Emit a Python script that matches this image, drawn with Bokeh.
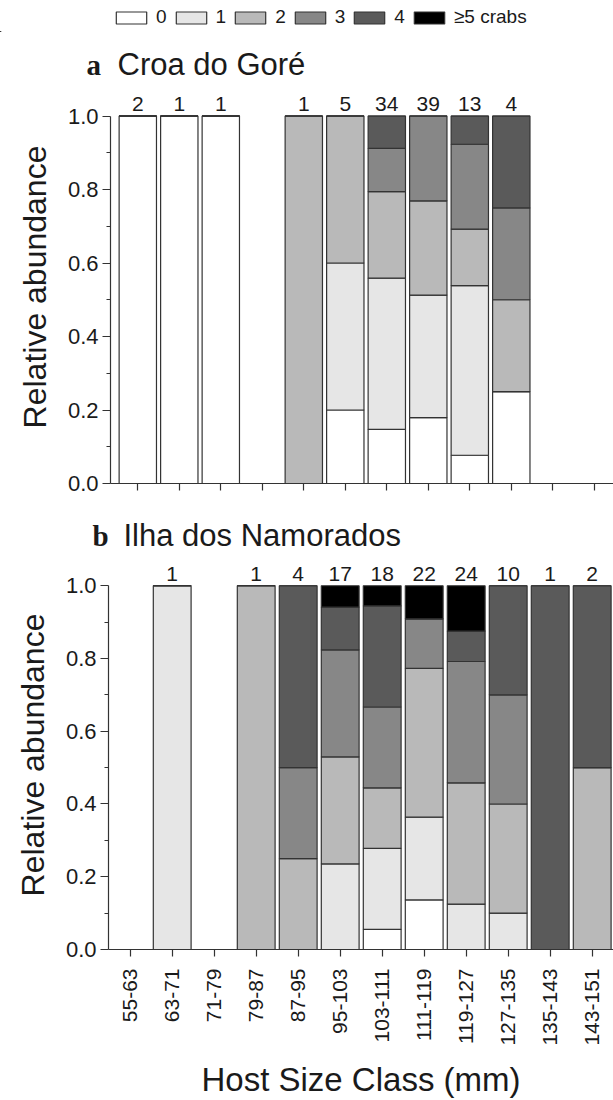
import math
import numpy as np
from bokeh.plotting import figure
from bokeh.models import (ColumnDataSource, FixedTicker, PrintfTickFormatter,
                          Legend, LegendItem, Range1d)
from bokeh.layouts import column
from bokeh.embed import file_html
from bokeh.resources import INLINE
from bokeh.core.properties import value

# ---------------- data ----------------
categories = ["55-63", "63-71", "71-79", "79-87", "87-95", "95-103", "103-111",
              "111-119", "119-127", "127-135", "135-143", "143-151"]
crab_classes = ["0", "1", "2", "3", "4", "\u22655 crabs"]

# a: Croa do Goré -- number of hosts carrying 0,1,2,3,4,>=5 crabs per size class
a_crabs0 = [2, 1, 1, 0, 0, 1, 5, 7, 1, 1, 0, 0]
a_crabs1 = [0, 0, 0, 0, 0, 2, 14, 13, 6, 0, 0, 0]
a_crabs2 = [0, 0, 0, 0, 1, 2, 8, 10, 2, 1, 0, 0]
a_crabs3 = [0, 0, 0, 0, 0, 0, 4, 9, 3, 1, 0, 0]
a_crabs4 = [0, 0, 0, 0, 0, 0, 3, 0, 1, 1, 0, 0]
a_crabs5 = [0, 0, 0, 0, 0, 0, 0, 0, 0, 0, 0, 0]

# b: Ilha dos Namorados
b_crabs0 = [0, 0, 0, 0, 0, 0, 1, 3, 0, 0, 0, 0]
b_crabs1 = [0, 1, 0, 0, 0, 4, 4, 5, 3, 1, 0, 0]
b_crabs2 = [0, 0, 0, 1, 1, 5, 3, 9, 8, 3, 0, 1]
b_crabs3 = [0, 0, 0, 0, 1, 5, 4, 3, 8, 3, 0, 0]
b_crabs4 = [0, 0, 0, 0, 2, 2, 5, 0, 2, 3, 1, 1]
b_crabs5 = [0, 0, 0, 0, 0, 1, 1, 2, 3, 0, 0, 0]

panel_letters = ["a", "b"]
panel_names = ["Croa do Gor\u00e9", "Ilha dos Namorados"]

y_ticks = [0.0, 0.2, 0.4, 0.6, 0.8, 1.0]
y_minor = [0.1, 0.3, 0.5, 0.7, 0.9]

# ---------------- style ----------------
COLORS = ["#ffffff", "#e6e6e6", "#b9b9b9", "#878787", "#5a5a5a", "#000000"]
LINE = "#333333"
TXT = "#1a1a1a"
SANS = "Liberation Sans"
SERIF = "Liberation Serif"
PX_PER_UNIT = 367.5
W = 613


def strip(height):
    p = figure(width=W, height=height, x_range=(0, W), y_range=(0, height),
               output_backend="svg", toolbar_location=None,
               min_border_left=0, min_border_right=0, min_border_top=0, min_border_bottom=0,
               x_axis_location=None, y_axis_location=None)
    p.frame_align = False
    p.outline_line_color = None
    p.grid.visible = False
    return p


def title_strip(height, letter, name, letter_x, name_x, base_from_top):
    p = strip(height)
    yb = height - base_from_top
    p.text(x=[letter_x], y=[yb], text=[letter], text_font=value(SERIF),
           text_font_style="bold", text_font_size="29px", text_color=TXT,
           text_baseline="alphabetic", text_align="left")
    p.text(x=[name_x], y=[yb], text=[name], text_font=value(SANS),
           text_font_size="31px", text_color=TXT,
           text_baseline="alphabetic", text_align="left")
    return p


def make_panel(counts, height, top, bottom, left, first_tick, pitch, show_labels):
    counts = np.array(counts, dtype=float)
    n = counts.sum(axis=0)
    safe_n = np.where(n > 0, n, 1)
    props = np.where(n > 0, counts / safe_n, np.nan)
    keys = [f"c{i}" for i in range(len(crab_classes))]
    data = {"x": list(range(len(categories)))}
    for k, row in zip(keys, props):
        data[k] = list(row)
    src = ColumnDataSource(data)

    frame_h = height - top - bottom
    xstart = -(first_tick - left) / pitch
    xend = xstart + (W - left) / pitch
    p = figure(width=W, height=height,
               x_range=Range1d(xstart, xend), y_range=Range1d(0, frame_h / PX_PER_UNIT),
               output_backend="svg", toolbar_location=None,
               min_border_left=left, min_border_right=0,
               min_border_top=top, min_border_bottom=bottom)
    p.frame_align = False
    p.outline_line_color = None
    p.grid.visible = False

    p.vbar_stack(keys, x="x", width=0.9, fill_color=COLORS, line_color=LINE,
                 line_width=1.2, source=src)

    idx = [i for i in range(len(categories)) if n[i] > 0]
    tops = np.nansum(props, axis=0)
    p.text(x=idx, y=[float(tops[i]) for i in idx], text=[str(int(n[i])) for i in idx],
           text_align="center", text_baseline="alphabetic", y_offset=-12,
           text_font=value(SANS), text_font_size="21px", text_color=TXT)

    for ax in (p.xaxis[0], p.yaxis[0]):
        ax.axis_line_color = LINE
        ax.axis_line_width = 1.2
        ax.major_tick_line_color = LINE
        ax.major_tick_line_width = 1.2
        ax.minor_tick_line_color = LINE
        ax.minor_tick_line_width = 1.2
        ax.major_tick_in = 0
        ax.major_tick_out = 8
        ax.minor_tick_in = 0
        ax.minor_tick_out = 4
        ax.major_label_text_font = SANS
        ax.major_label_text_font_size = "21px"
        ax.major_label_text_color = TXT
        ax.axis_label_text_font = SANS
        ax.axis_label_text_font_style = "normal"
        ax.axis_label_text_color = TXT

    xa = p.xaxis[0]
    xa.ticker = FixedTicker(ticks=list(range(len(categories))), minor_ticks=[])
    xa.major_tick_out = 7
    if show_labels:
        xa.major_label_overrides = {i: c for i, c in enumerate(categories)}
        xa.major_label_orientation = math.pi / 2
        xa.major_label_standoff = 12
        xa.axis_label = "Host Size Class (mm)"
        xa.axis_label_text_font_size = "33px"
        xa.axis_label_standoff = 12
    else:
        xa.major_label_overrides = {i: "" for i in range(len(categories))}
        xa.major_label_standoff = 0

    ya = p.yaxis[0]
    ya.ticker = FixedTicker(ticks=y_ticks, minor_ticks=y_minor)
    ya.formatter = PrintfTickFormatter(format="%.1f")
    ya.bounds = (0, 1)
    ya.major_label_standoff = 4
    ya.major_label_text_font_size = "22px"
    ya.axis_label = "Relative abundance"
    ya.axis_label_text_font_size = "32px"
    ya.axis_label_standoff = 12
    return p


# legend strip: swatch renderers sit outside the visible range, only their legend entries show
pl = strip(32)
items = []
for lab, col in zip(crab_classes, COLORS):
    r = pl.vbar(x=[-1000], top=[1], width=1, fill_color=col, line_color=LINE, line_width=1.2)
    items.append(LegendItem(label=lab, renderers=[r]))
leg = Legend(items=items, orientation="horizontal", location=(112, 4),
             glyph_width=38, glyph_height=15, label_standoff=6, spacing=5,
             label_width=10, padding=0, margin=0, border_line_color=None,
             background_fill_alpha=0,
             label_text_font=SANS, label_text_font_size="19px", label_text_color=TXT)
pl.add_layout(leg, "center")

ta = title_strip(56, panel_letters[0], panel_names[0], 86, 117, 32)
pa = make_panel([a_crabs0, a_crabs1, a_crabs2, a_crabs3, a_crabs4, a_crabs5],
                height=409, top=2, bottom=14, left=110, first_tick=137.3, pitch=41.5,
                show_labels=False)
tb = title_strip(60, panel_letters[1], panel_names[1], 92, 123, 38)
pb = make_panel([b_crabs0, b_crabs1, b_crabs2, b_crabs3, b_crabs4, b_crabs5],
                height=543, top=3, bottom=147, left=108, first_tick=129.7, pitch=42.0,
                show_labels=True)

layout = column(pl, ta, pa, tb, pb, spacing=0)
open("out.html", "w").write(file_html(layout, INLINE))
